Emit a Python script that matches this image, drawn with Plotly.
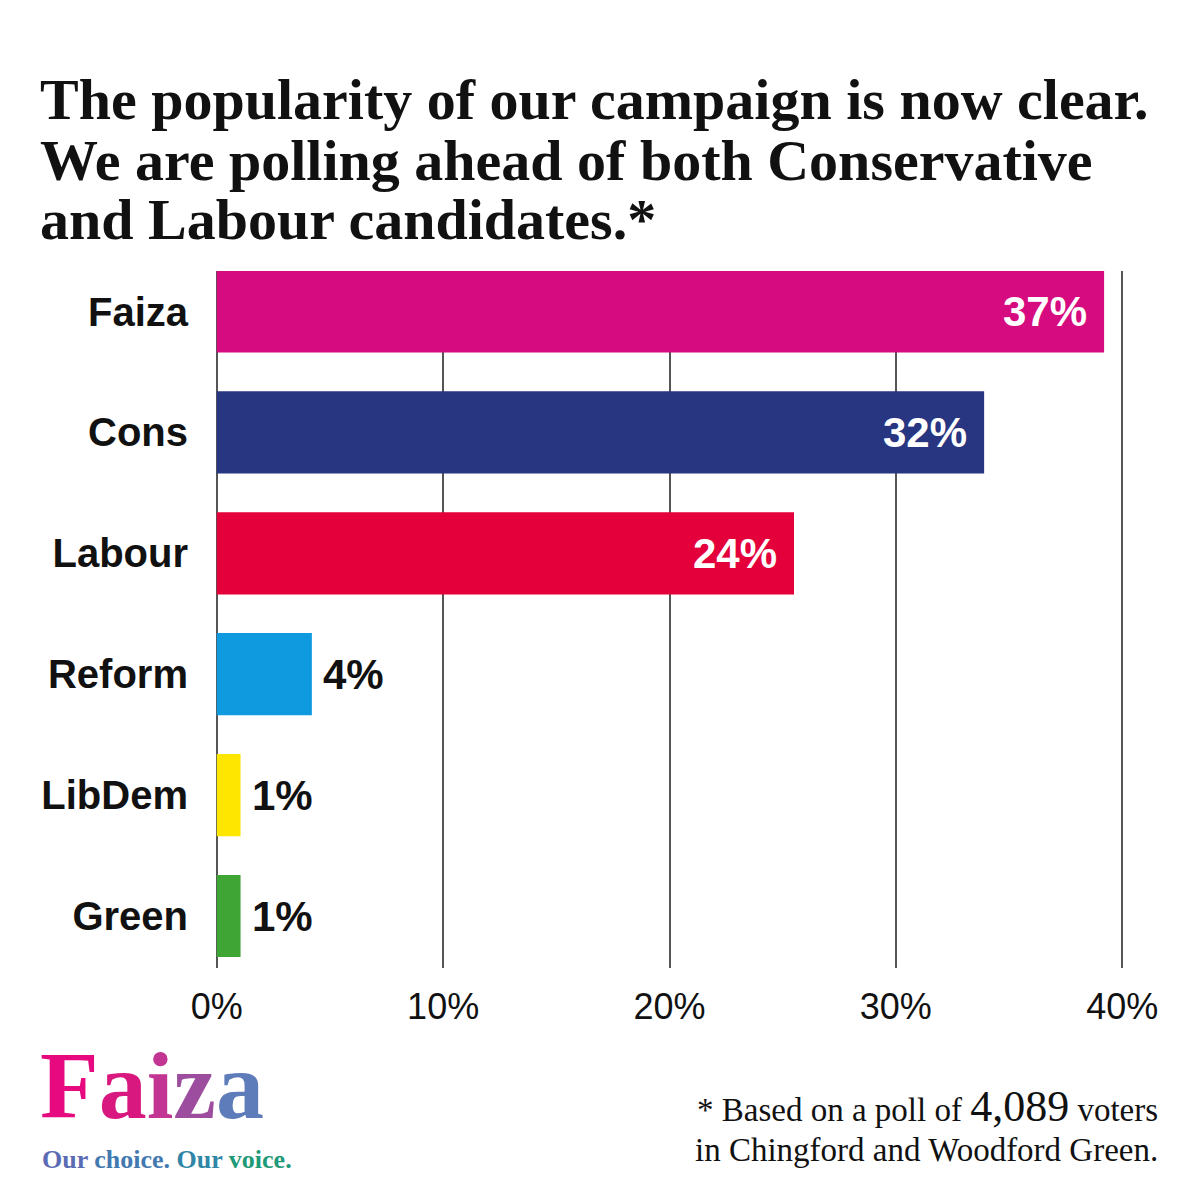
# Import packages
import plotly.graph_objects as go

#==================================================================================================================================================================
# Data
candidates = ["Faiza", "Cons", "Labour", "Reform", "LibDem", "Green"]
bar_lengths = [39.2, 33.9, 25.5, 4.2, 1.05, 1.05]     # bar length as drawn (%)
bar_labels = ["37%", "32%", "24%", "4%", "1%", "1%"]   # labels printed on the bars
label_inside = [True, True, True, False, False, False]
tick_vals = [0, 10, 20, 30, 40]
tick_text = ["0%", "10%", "20%", "30%", "40%"]

# Global variables
bar_colors = ['#d60b80', '#283580', '#e4003b', '#0f9ae0', '#ffe600', '#3fa535']
grid_color = '#555555'
text_color = '#111111'
sans = 'Liberation Sans, Arial, sans-serif'
serif = 'Liberation Serif, Times New Roman, serif'

off = 8     # page margin of the html body
# plot area in pixels (figure is 1200 x 1200)
pl, pr, pt, pb = 210 - off, 1129 - off, 271 - off, 968 - off

#------------------------------------------------------------------------------------------------------------------------------------------------------------------
def px(x, y):
    # pixel position (in the final picture) -> paper coords
    return (x - off - pl) / (pr - pl), (pb - (y - off)) / (pb - pt)

def add_text(fig, x, y, text, size, font=serif, color=text_color, xanchor='left'):
    xp, yp = px(x, y)
    fig.add_annotation(x=xp, y=yp, xref='paper', yref='paper', text=text, showarrow=False,
                       xanchor=xanchor, yanchor='middle', align=xanchor,
                       font=dict(family=font, size=size, color=color))

#------------------------------------------------------------------------------------------------------------------------------------------------------------------
fig = go.Figure()
fig.add_trace(go.Bar(
        x = bar_lengths,
        y = candidates,
        orientation = 'h',
        width = 0.68,
        marker = dict(color = bar_colors, line = dict(width = 0)),
        hoverinfo = 'skip'
))

# value labels
for cand, val, lab, inside in zip(candidates, bar_lengths, bar_labels, label_inside):
    fig.add_annotation(
            x = val, y = cand, text = '<b>%s</b>' % lab, showarrow = False,
            xanchor = 'right' if inside else 'left',
            xshift = -15 if inside else 9,
            font = dict(family = sans, size = 42, color = 'white' if inside else text_color)
    )

# title
title_lines = ["The popularity of our campaign is now clear.",
               "We are polling ahead of both Conservative",
               "and Labour candidates.*"]
for i, line in enumerate(title_lines):
    add_text(fig, 38, 100 + i * 60, '<b>%s</b>' % line, 58)

# footnote
add_text(fig, 1160, 1106, '* Based on a poll of <span style="font-size:44px">4,089</span> voters', 33, xanchor='right')
add_text(fig, 1160, 1150, 'in Chingford and Woodford Green.', 33, xanchor='right')

# logo
logo_cols = ['#e6097f', '#d8187f', '#c33592', '#9c4d9d', '#5e7cb9']
logo = ''.join('<span style="color:%s">%s</span>' % (c, ch) for c, ch in zip(logo_cols, "Faiza"))
add_text(fig, 38, 1085, '<b>%s</b>' % logo, 96)
tag_cols = ['#5a6bb4', '#4279b0', '#2f86a6', '#1f9a78']
tag = ' '.join('<span style="color:%s">%s</span>' % (c, w) for c, w in zip(tag_cols, ["Our", "choice.", "Our", "voice."]))
add_text(fig, 40, 1159, '<b>%s</b>' % tag, 26)

layout = dict(
        width = 1200, height = 1200,
        margin = dict(l = pl, r = 1200 - pr, t = pt, b = 1200 - pb),
        paper_bgcolor = 'white', plot_bgcolor = 'white',
        showlegend = False,
        bargap = 0.3,
        xaxis = dict(range = [-0.3, 40.3], tickvals = tick_vals, ticktext = tick_text,
                     showgrid = True, gridcolor = grid_color, gridwidth = 2,
                     zeroline = False, showline = False, ticks = '',
                     ticklabelstandoff = 14,
                     tickfont = dict(family = sans, size = 36, color = text_color)),
        yaxis = dict(type = 'category', range = [5.43, -0.335], showgrid = False,
                     zeroline = False, showline = False, ticks = '',
                     ticklabelstandoff = 21,
                     tickfont = dict(family = sans, size = 40, color = text_color),
                     tickprefix = '<b>', ticksuffix = '</b>')
)
fig.update_layout(layout)
fig.write_html("out.html")
